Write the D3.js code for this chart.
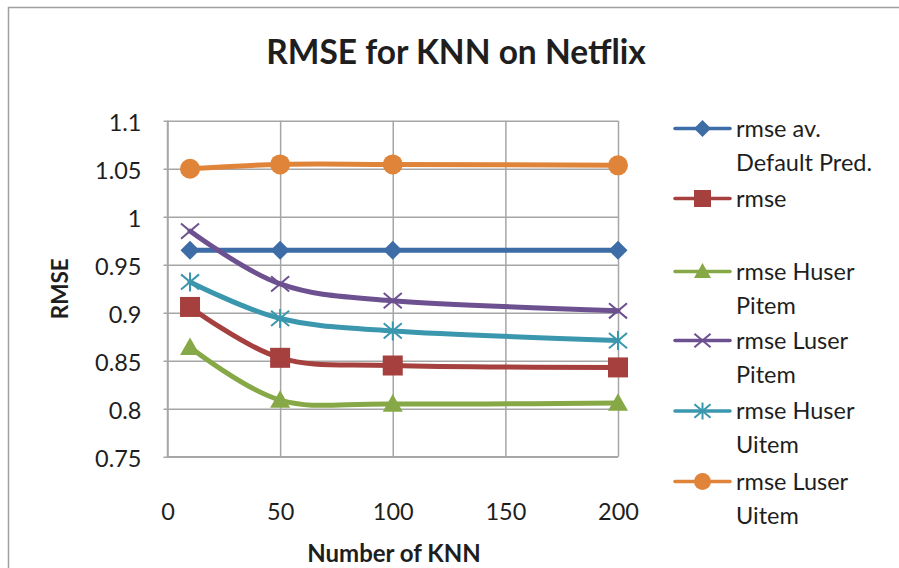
<!DOCTYPE html>
<html>
<head>
<meta charset="utf-8">
<script src="https://cdn.jsdelivr.net/npm/d3@7"></script>
<style>
  html, body { margin: 0; padding: 0; background: #fff; }
  svg { display: block; }
  text { font-family: Lato, "Open Sans", sans-serif; fill: #1e1e1e; }
</style>
</head>
<body>
<svg id="chart" width="899" height="568"></svg>
<script>
// ---- data ----
const kValues = [10, 50, 100, 200];
const seriesNames = ["rmse av. Default Pred.", "rmse", "rmse Huser Pitem", "rmse Luser Pitem", "rmse Huser Uitem", "rmse Luser Uitem"];
const legendLines = [["rmse av.", "Default Pred."], ["rmse"], ["rmse Huser", "Pitem"], ["rmse Luser", "Pitem"], ["rmse Huser", "Uitem"], ["rmse Luser", "Uitem"]];
const rmseDefault   = [0.965, 0.965, 0.965, 0.965];
const rmsePlain     = [0.906, 0.853, 0.845, 0.843];
const rmseHuserPitem = [0.864, 0.809, 0.805, 0.806];
const rmseLuserPitem = [0.985, 0.930, 0.9125, 0.902];
const rmseHuserUitem = [0.932, 0.894, 0.881, 0.871];
const rmseLuserUitem = [1.050, 1.0545, 1.0545, 1.0535];
const seriesValues = [rmseDefault, rmsePlain, rmseHuserPitem, rmseLuserPitem, rmseHuserUitem, rmseLuserUitem];
const seriesColors = ["#3d6ca6", "#a5403e", "#86a846", "#6d5090", "#3a97ae", "#e0843a"];
const seriesMarkers = ["diamond", "square", "triangle", "x", "star", "circle"];
const yTicks = [0.75, 0.8, 0.85, 0.9, 0.95, 1, 1.05, 1.1];
const xTicks = [0, 50, 100, 150, 200];

// ---- layout ----
const svg = d3.select("#chart");
const X0 = 167.5, X1 = 618, Y0 = 456.7, Y1 = 120.7;
const x = d3.scaleLinear().domain([0, 200]).range([X0, X1]);
const y = d3.scaleLinear().domain([0.75, 1.1]).range([Y0, Y1]);
const gridColor = "#a6a6a6";

// outer frame
svg.append("path")
  .attr("d", `M8.5,${568 + 5} V7.5 H${899 + 5}`)
  .attr("fill", "none").attr("stroke", "#a0a0a0").attr("stroke-width", 1.5);

// title
svg.append("text")
  .attr("x", 456).attr("y", 63.5)
  .attr("text-anchor", "middle")
  .style("font-size", "33.5px").style("font-weight", "bold")
  .text("RMSE for KNN on Netflix");

// y axis with gridlines
const yAxis = svg.append("g")
  .attr("transform", `translate(${X0},0)`)
  .call(d3.axisLeft(y).tickValues(yTicks).tickSize(-(X1 - X0)).tickPadding(26)
    .tickFormat(d => d3.format("")(+d.toFixed(2))));
yAxis.select(".domain").remove();
yAxis.selectAll(".tick line").attr("x1", -4).attr("stroke", gridColor).attr("stroke-width", 1.5);
yAxis.selectAll(".tick text").attr("dy", "0.43em").style("font-size", "23.5px").attr("fill", "#1e1e1e");

// x axis with gridlines
const xAxis = svg.append("g")
  .attr("transform", `translate(0,${Y0})`)
  .call(d3.axisBottom(x).tickValues(xTicks).tickSize(-(Y0 - Y1)).tickPadding(46.5));
xAxis.select(".domain").remove();
xAxis.selectAll(".tick line").attr("stroke", gridColor).attr("stroke-width", 1.5);
xAxis.selectAll(".tick text").style("font-size", "23.5px").attr("fill", "#1e1e1e");

// axis frame lines (left + bottom)
svg.append("path")
  .attr("d", `M${X0},${Y1} V${Y0} H${X1}`)
  .attr("fill", "none").attr("stroke", gridColor).attr("stroke-width", 1.5);

// axis titles
svg.append("text")
  .attr("transform", `translate(68,${(Y0 + Y1) / 2}) rotate(-90)`)
  .attr("text-anchor", "middle")
  .style("font-size", "22.5px").style("font-weight", "bold")
  .text("RMSE");
svg.append("text")
  .attr("x", 394).attr("y", 561.5)
  .attr("text-anchor", "middle")
  .style("font-size", "24px").style("font-weight", "bold")
  .text("Number of KNN");

// marker drawing
function drawMarker(g, type, color, s) {
  const h = s / 2;
  if (type === "diamond") {
    g.append("path").attr("d", `M0,${-h}L${h},0L0,${h}L${-h},0Z`).attr("fill", color);
  } else if (type === "square") {
    g.append("rect").attr("x", -h).attr("y", -h).attr("width", s).attr("height", s).attr("fill", color);
  } else if (type === "triangle") {
    const th = s * 0.88;
    g.append("path").attr("d", `M0,${-th / 2 - 1}L${h},${th / 2 - 1}L${-h},${th / 2 - 1}Z`).attr("fill", color);
  } else if (type === "circle") {
    g.append("circle").attr("r", h).attr("fill", color);
  } else if (type === "x") {
    const a = h * 0.95, b = h * 0.8;
    g.append("path").attr("d", `M${-a},${-b}L${a},${b}M${-a},${b}L${a},${-b}`)
      .attr("stroke", color).attr("stroke-width", 2).attr("fill", "none");
  } else if (type === "star") {
    const a = h * 0.95, b = h * 0.8;
    g.append("path").attr("d", `M${-a},${-b}L${a},${b}M${-a},${b}L${a},${-b}M0,${-h}L0,${h}`)
      .attr("stroke", color).attr("stroke-width", 2).attr("fill", "none");
  }
}

// series
const line = d3.line()
  .x(d => x(d.k)).y(d => y(d.v))
  .curve(d3.curveCardinal.tension(0));

seriesValues.forEach((vals, i) => {
  const pts = kValues.map((k, j) => ({ k, v: vals[j] }));
  const g = svg.append("g").attr("class", "series");
  g.append("path").datum(pts)
    .attr("d", line)
    .attr("fill", "none")
    .attr("stroke", seriesColors[i])
    .attr("stroke-width", 5)
    .attr("stroke-linejoin", "round")
    .attr("stroke-linecap", "round");
  pts.forEach(p => {
    const mg = g.append("g").attr("transform", `translate(${x(p.k)},${y(p.v)})`);
    drawMarker(mg, seriesMarkers[i], seriesColors[i], seriesMarkers[i] === "diamond" ? 19 : (seriesMarkers[i] === "x" || seriesMarkers[i] === "star" ? 19 : 20));
  });
});

// legend
const legendRows = [128.5, 198.5, 271.5, 340.5, 411, 481.5];
const lineGap = 34;
legendLines.forEach((lines, i) => {
  const ly = legendRows[i];
  const g = svg.append("g").attr("class", "legend-item");
  g.append("line").attr("x1", 675).attr("x2", 730).attr("y1", ly).attr("y2", ly)
    .attr("stroke", seriesColors[i]).attr("stroke-width", 3.5).attr("stroke-linecap", "round");
  const mg = g.append("g").attr("transform", `translate(702.5,${ly})`);
  drawMarker(mg, seriesMarkers[i], seriesColors[i], 17);
  lines.forEach((t, j) => {
    g.append("text").attr("x", 736).attr("y", ly + 8 + j * lineGap)
      .style("font-size", "23.5px").text(t);
  });
});
</script>
</body>
</html>
